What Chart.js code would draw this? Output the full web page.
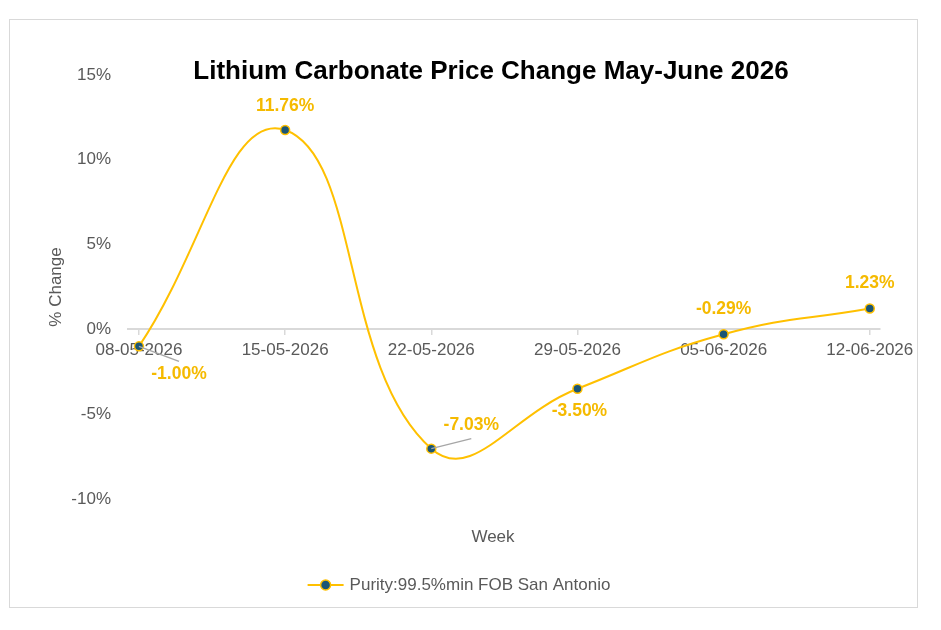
<!DOCTYPE html>
<html>
<head>
<meta charset="utf-8">
<script src="https://cdn.jsdelivr.net/npm/chart.js@4.4.1/dist/chart.umd.min.js"></script>
<style>
  body { margin: 0; background: #fff; }
  #wrap { position: relative; width: 941px; height: 630px; }
  #frame { position: absolute; left: 9px; top: 19px; width: 907px; height: 587px; border: 1px solid #D9D9D9; }
  #title { position: absolute; left: 0; width: 982px; top: 55px; text-align: center;
           font: bold 26px "Liberation Sans", Arial, sans-serif; color: #000; }
  canvas { position: absolute; left: 0; top: 0; }
</style>
</head>
<body>
<div id="wrap">
  <div id="frame"></div>
  <canvas id="priceChart" width="941" height="630"></canvas>
  <div id="title">Lithium Carbonate Price Change May-June 2026</div>
</div>
<script>
var weeks = ['08-05-2026', '15-05-2026', '22-05-2026', '29-05-2026', '05-06-2026', '12-06-2026'];
var changeValues = [-1.00, 11.76, -7.03, -3.50, -0.29, 1.23];
var yTicks = [-10, -5, 0, 5, 10, 15];
var seriesName = 'Purity:99.5%min FOB San Antonio';

var gold = '#FFC000';
var labelGold = '#F5BA00';
var gray = '#595959';
var font = '"Liberation Sans", Arial, sans-serif';

// where each value label sits, relative to its point
var labelPlace = [
    {dx: 40, dy: 28, leader: true},
    {dx: 0, dy: -24},
    {dx: 40, dy: -23, leader: true},
    {dx: 2, dy: 22},
    {dx: 0, dy: -25},
    {dx: 0, dy: -25}
];

var valueLabels = {
    id: 'valueLabels',
    afterDatasetsDraw: function(chart) {
        var ctx = chart.ctx;
        var meta = chart.getDatasetMeta(0);
        ctx.save();
        ctx.font = 'bold 17.5px ' + font;
        ctx.textAlign = 'center';
        ctx.textBaseline = 'middle';
        meta.data.forEach(function(pt, i) {
            var p = labelPlace[i];
            var lx = pt.x + p.dx, ly = pt.y + p.dy;
            if (p.leader) {
                ctx.strokeStyle = '#A6A6A6';
                ctx.lineWidth = 1.5;
                ctx.beginPath();
                ctx.moveTo(pt.x, pt.y);
                ctx.lineTo(lx, ly + (p.dy < 0 ? 13 : -13));
                ctx.stroke();
            }
            ctx.fillStyle = labelGold;
            ctx.fillText(changeValues[i].toFixed(2) + '%', lx, ly);
        });
        ctx.restore();
    }
};

var extraText = {
    id: 'extraText',
    afterDraw: function(chart) {
        var ctx = chart.ctx;
        ctx.save();
        // x axis title
        ctx.fillStyle = gray;
        ctx.font = '17px ' + font;
        ctx.textAlign = 'center';
        ctx.textBaseline = 'middle';
        ctx.fillText('Week', 493, 537);
        // legend
        ctx.font = '17px ' + font;
        var tw = ctx.measureText(seriesName).width;
        var total = 36 + 6 + tw;
        var x0 = 459 - total / 2, y0 = 585;
        ctx.strokeStyle = gold;
        ctx.lineWidth = 2;
        ctx.beginPath();
        ctx.moveTo(x0, y0);
        ctx.lineTo(x0 + 36, y0);
        ctx.stroke();
        ctx.beginPath();
        ctx.arc(x0 + 18, y0, 5, 0, Math.PI * 2);
        ctx.fillStyle = '#1B5676';
        ctx.fill();
        ctx.lineWidth = 1.5;
        ctx.stroke();
        ctx.fillStyle = gray;
        ctx.textAlign = 'left';
        ctx.fillText(seriesName, x0 + 42, y0);
        ctx.restore();
    }
};

new Chart(document.getElementById('priceChart'), {
    type: 'line',
    data: {
        datasets: [{
            label: seriesName,
            data: changeValues.map(function(v, i) { return {x: i, y: v}; }),
            borderColor: gold,
            borderWidth: 2,
            tension: 0.45,
            pointRadius: 4.5,
            pointBackgroundColor: '#1B5676',
            pointBorderColor: gold,
            pointBorderWidth: 1.5,
            fill: false
        }]
    },
    options: {
        responsive: false,
        animation: false,
        layout: { padding: { left: 38, right: 61, top: 75, bottom: 131 } },
        plugins: {
            legend: { display: false },
            title: { display: false },
            tooltip: { enabled: false }
        },
        scales: {
            x: {
                type: 'linear',
                axis: 'x',
                position: { y: 0 },
                min: -0.075,
                max: 5.07,
                afterBuildTicks: function(scale) {
                    scale.ticks = weeks.map(function(w, i) { return {value: i}; });
                },
                ticks: {
                    color: gray,
                    font: { family: font, size: 17 },
                    padding: 6,
                    maxRotation: 0,
                    autoSkip: false,
                    callback: function(v) { return weeks[v]; }
                },
                grid: { drawOnChartArea: false, drawTicks: true, tickLength: 5, color: '#D9D9D9', lineWidth: 1.5 },
                border: { display: true, color: '#D9D9D9', width: 2 }
            },
            y: {
                min: -10,
                max: 15,
                afterFit: function(scale) { scale.width = 90; },
                afterBuildTicks: function(scale) {
                    scale.ticks = yTicks.map(function(v) { return {value: v}; });
                },
                ticks: {
                    color: gray,
                    font: { family: font, size: 17 },
                    padding: 9,
                    callback: function(v) { return v + '%'; }
                },
                grid: { display: false },
                border: { display: false },
                title: {
                    display: true,
                    text: '% Change',
                    color: gray,
                    font: { family: font, size: 17 },
                    padding: { top: 8, bottom: 0 }
                }
            }
        }
    },
    plugins: [valueLabels, extraText]
});
</script>
</body>
</html>
